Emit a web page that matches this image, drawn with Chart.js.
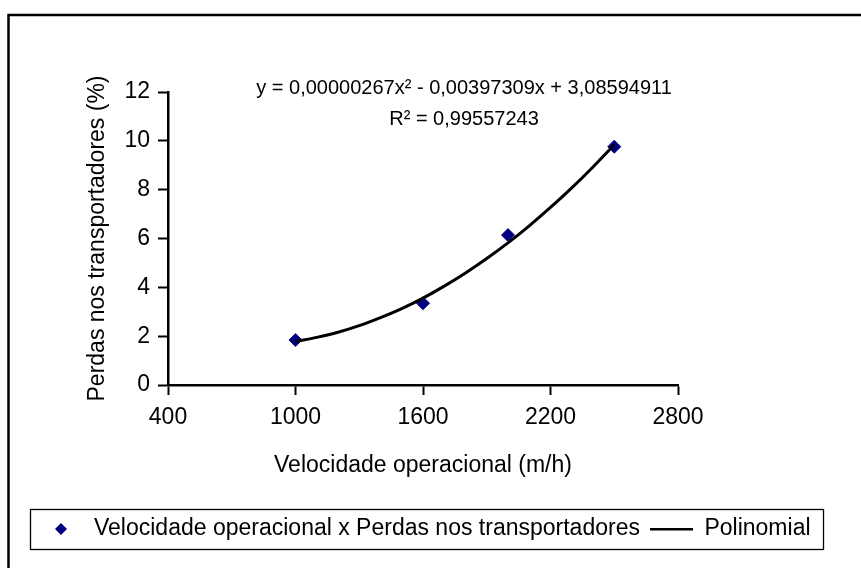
<!DOCTYPE html>
<html>
<head>
<meta charset="utf-8">
<script src="https://cdn.jsdelivr.net/npm/chart.js@4"></script>
<style>
  html, body { margin: 0; padding: 0; background: #fff; overflow: hidden; }
  canvas { display: block; }
</style>
</head>
<body>
<canvas id="perdasChart" width="861" height="568"></canvas>
<script>
// observed points
const velocidade = [1000, 1600, 2000, 2500];
const perdas = [1.84, 3.35, 6.14, 9.76];

// trendline
const curvaVelocidade = [1000, 1100, 1200, 1300, 1400, 1500, 1600, 1700, 1800, 1900, 2000, 2100, 2200, 2300, 2400, 2500];
const curvaPerdas = [1.78, 1.95, 2.16, 2.43, 2.76, 3.13, 3.56, 4.05, 4.59, 5.18, 5.82, 6.52, 7.27, 8.07, 8.93, 9.84];

const xTicks = [400, 1000, 1600, 2200, 2800];
const yTicks = [0, 2, 4, 6, 8, 10, 12];

const equacao = 'y = 0,00000267x² - 0,00397309x + 3,08594911';
const r2 = 'R² = 0,99557243';

const FONT = "'Liberation Sans', Arial, sans-serif";

// legend symbols
function diamondSymbol() {
  const c = document.createElement('canvas');
  c.width = 14; c.height = 14;
  const g = c.getContext('2d');
  g.fillStyle = '#000080';
  g.beginPath();
  g.moveTo(7, 1); g.lineTo(13, 7); g.lineTo(7, 13); g.lineTo(1, 7);
  g.closePath();
  g.fill();
  return c;
}
function lineSymbol() {
  const c = document.createElement('canvas');
  c.width = 43; c.height = 4;
  const g = c.getContext('2d');
  g.fillStyle = '#000';
  g.fillRect(0, 1, 43, 2.5);
  return c;
}
const legendSymbols = [diamondSymbol(), lineSymbol()];

const extras = {
  id: 'extras',
  beforeDraw(chart) {
    const ctx = chart.ctx;
    ctx.save();
    ctx.strokeStyle = '#000';
    ctx.lineWidth = 2.5;
    ctx.strokeRect(8.5, 15, 900, 600);
    ctx.restore();
  },
  afterDraw(chart) {
    const ctx = chart.ctx;
    ctx.save();
    ctx.fillStyle = '#000';
    ctx.font = '20px ' + FONT;
    ctx.textAlign = 'center';
    ctx.textBaseline = 'middle';
    ctx.fillText(equacao, 464, 88);
    ctx.fillText(r2, 464, 119);

    // box round the legend
    const hb = chart.legend.legendHitBoxes;
    if (hb && hb.length) {
      const first = hb[0], last = hb[hb.length - 1];
      const cy = first.top + first.height / 2;
      ctx.strokeStyle = '#000';
      ctx.lineWidth = 1.3;
      ctx.strokeRect(Math.round(first.left - 9) + 0.5, Math.round(cy - 20) + 0.5,
        Math.round(last.left + last.width - first.left + 22), 40);
    }
    ctx.restore();
  }
};

new Chart(document.getElementById('perdasChart'), {
  type: 'scatter',
  data: {
    datasets: [
      {
        label: 'Velocidade operacional x Perdas nos transportadores',
        data: velocidade.map((v, i) => ({ x: v, y: perdas[i] })),
        pointStyle: 'rectRot',
        pointRadius: 6.5,
        backgroundColor: '#000080',
        borderColor: '#000080',
        borderWidth: 1,
        order: 2
      },
      {
        type: 'line',
        label: 'Polinomial',
        data: curvaVelocidade.map((v, i) => ({ x: v, y: curvaPerdas[i] })),
        borderColor: '#000',
        borderWidth: 3,
        pointRadius: 0,
        fill: false,
        tension: 0.3,
        order: 1
      }
    ]
  },
  options: {
    responsive: false,
    animation: false,
    layout: { padding: { left: 0, right: 11, top: 92, bottom: 17.5 } },
    plugins: {
      title: { display: false },
      tooltip: { enabled: false },
      legend: {
        position: 'bottom',
        labels: {
          color: '#000',
          font: { family: FONT, size: 23 },
          usePointStyle: true,
          pointStyleWidth: 43,
          padding: 10,
          sort: (a, b) => a.datasetIndex - b.datasetIndex,
          generateLabels(chart) {
            const items = Chart.defaults.plugins.legend.labels.generateLabels(chart);
            items.forEach(it => { it.pointStyle = legendSymbols[it.datasetIndex]; });
            return items;
          }
        }
      }
    },
    scales: {
      x: {
        type: 'linear',
        position: 'bottom',
        min: xTicks[0],
        max: xTicks[xTicks.length - 1],
        afterBuildTicks(scale) { scale.ticks = xTicks.map(v => ({ value: v })); },
        afterFit(scale) { scale.height = 122.5; },
        grid: { drawOnChartArea: false, tickLength: 10, tickWidth: 2, tickColor: '#000' },
        border: { color: '#000', width: 2.5 },
        ticks: { color: '#000', padding: 9, font: { family: FONT, size: 23 }, callback: v => String(v) },
        title: {
          display: true,
          text: 'Velocidade operacional (m/h)',
          color: '#000',
          font: { family: FONT, size: 23 },
          padding: { top: 0, bottom: 27.7 }
        }
      },
      y: {
        type: 'linear',
        position: 'left',
        min: yTicks[0],
        max: yTicks[yTicks.length - 1],
        afterBuildTicks(scale) { scale.ticks = yTicks.map(v => ({ value: v })); },
        afterFit(scale) { scale.width = 168; },
        grid: { drawOnChartArea: false, tickLength: 10, tickWidth: 2, tickColor: '#000' },
        border: { color: '#000', width: 2.5 },
        ticks: { color: '#000', padding: 8, font: { family: FONT, size: 23 }, callback: v => String(v) },
        title: {
          display: true,
          text: 'Perdas nos transportadores (%)',
          color: '#000',
          font: { family: FONT, size: 23 },
          padding: { top: 84, bottom: 0 }
        }
      },
      espaco: {
        type: 'linear',
        position: 'right',
        display: true,
        afterFit(scale) { scale.width = 172; },
        grid: { display: false },
        border: { display: false },
        ticks: { display: false }
      }
    }
  },
  plugins: [extras]
});
</script>
</body>
</html>
